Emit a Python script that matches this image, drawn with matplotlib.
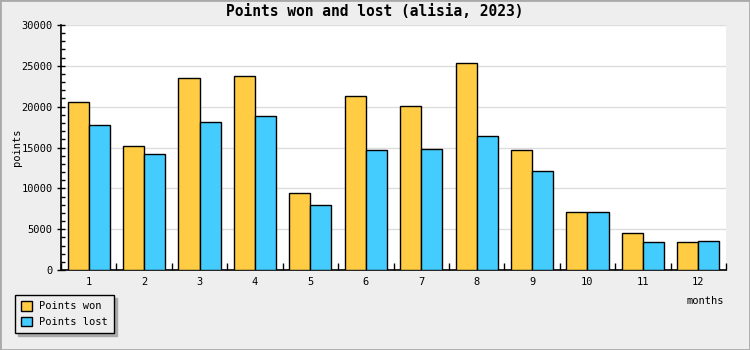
import matplotlib.pyplot as plt
from matplotlib.patches import Patch, Rectangle
import numpy as np

# 数据
months = [1, 2, 3, 4, 5, 6, 7, 8, 9, 10, 11, 12]
points_won = [20600, 15200, 23500, 23800, 9400, 21300, 20100, 25400, 14700, 7100, 4500, 3400]
points_lost = [17700, 14200, 18100, 18900, 7900, 14700, 14800, 16400, 12100, 7100, 3400, 3600]
series_names = ['Points won', 'Points lost']
colors = ['#ffcc44', '#44ccff']

plt.rcParams['font.family'] = ['DejaVu Sans Mono']

fig = plt.figure(figsize=(7.5, 3.5), dpi=100, facecolor='#eeeeee')
fig.add_artist(Rectangle((0, 0), 1, 1, transform=fig.transFigure, fill=False,
                         edgecolor='#aaaaaa', linewidth=2))
ax = fig.add_axes([61 / 750, 80 / 350, 665 / 750, 245 / 350])

x = np.array(months)
w = 0.38
ax.bar(x - w / 2, points_won, w, color=colors[0], edgecolor='black', linewidth=1, zorder=3)
ax.bar(x + w / 2, points_lost, w, color=colors[1], edgecolor='black', linewidth=1, zorder=3)

ax.set_xlim(0.5, 12.5)
ax.set_ylim(0, 30000)
ax.set_yticks(range(0, 30001, 5000))
ax.set_yticks(range(0, 30001, 1000), minor=True)
ax.yaxis.grid(True, color='#dddddd', linewidth=1, zorder=0)

# x轴: 刻度线在月份之间, 标签在中间
ax.set_xticks(np.arange(0.5, 12.6, 1))
ax.set_xticklabels([])
ax.set_xticks(x, minor=True)
ax.set_xticklabels([str(m) for m in months], minor=True)
ax.tick_params(axis='x', which='major', direction='in', length=5, width=1)
ax.tick_params(axis='x', which='minor', length=0, pad=5, labelsize=7.5)
ax.tick_params(axis='y', which='major', direction='inout', length=6, width=1, labelsize=7.5, pad=3)
ax.tick_params(axis='y', which='minor', direction='in', length=3, width=1)

for s in ['top', 'right']:
    ax.spines[s].set_visible(False)
for s in ['left', 'bottom']:
    ax.spines[s].set_linewidth(1.2)

ax.set_ylabel('points', fontsize=7.5)
ax.yaxis.set_label_coords(-39 / 665, 0.5)
fig.text(724 / 750, 1 - 301 / 350, 'months', fontsize=7.5, ha='right', va='center')
fig.text(0.5, 1 - 12 / 350, 'Points won and lost (alisia, 2023)', fontsize=10.5,
         fontweight='bold', ha='center', va='center')

handles = [Patch(facecolor=colors[0], edgecolor='black'),
           Patch(facecolor=colors[1], edgecolor='black')]
fig.legend(handles, series_names, loc='upper left', bbox_to_anchor=(15 / 750, 1 - 295 / 350),
           fontsize=7.5, fancybox=False, edgecolor='black', facecolor='#eeeeee', framealpha=1,
           shadow={'color': '#aaaaaa', 'alpha': 1}, handlelength=1.0, handleheight=1.0,
           handletextpad=0.7, borderpad=0.6, labelspacing=0.5, borderaxespad=0)

plt.savefig('out.png', dpi=100, facecolor=fig.get_facecolor())
